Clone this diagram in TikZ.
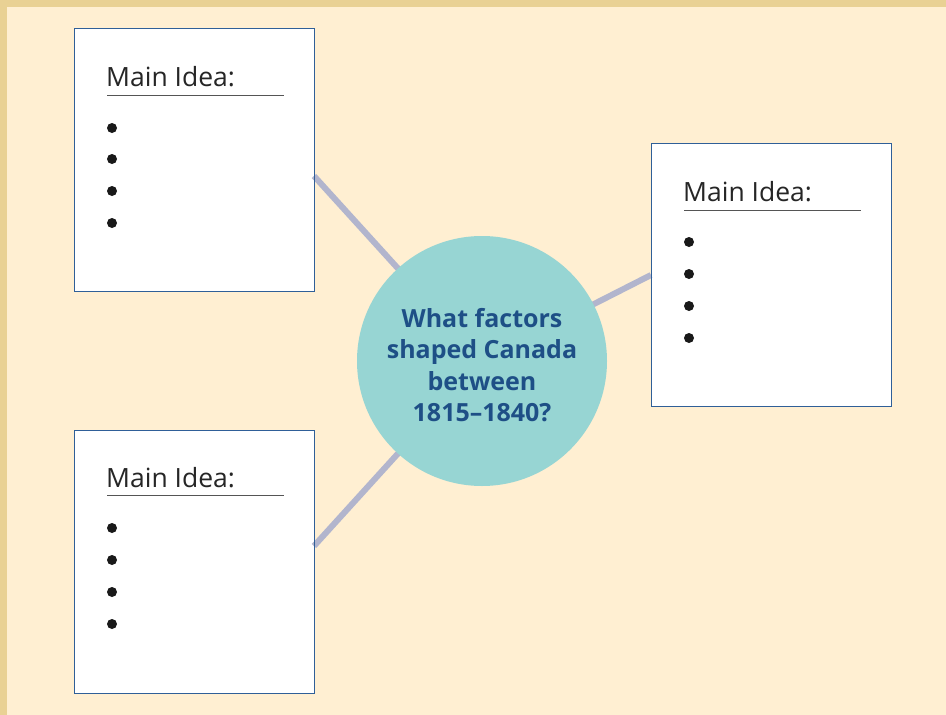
\documentclass[tikz,border=0pt]{standalone}
\usepackage{fontspec}
\setmainfont{Open Sans}
\definecolor{bgcream}{HTML}{FFEFD2}
\definecolor{bgtan}{HTML}{E9D194}
\definecolor{boxblue}{HTML}{2F5F98}
\definecolor{linkgray}{HTML}{B2B5CD}
\definecolor{circteal}{HTML}{97D5D3}
\definecolor{qblue}{HTML}{1E4F86}
\definecolor{rulegray}{HTML}{555555}
\begin{document}
\begin{tikzpicture}[x=1pt,y=-1pt,
  ideabox/.style={draw=boxblue,line width=1.2pt,fill=white,minimum width=240pt,minimum height=263pt,inner sep=0pt,anchor=north west},
  link/.style={draw=linkgray,line width=6pt},
  title/.style={font=\fontsize{26.5}{30}\selectfont,text=black!85,anchor=base west,inner sep=0pt},
  uline/.style={draw=rulegray,line width=1pt},
  bul/.style={fill=black!90,circle,inner sep=0pt,minimum size=10pt}]
\useasboundingbox (0,0) rectangle (946,715);
\fill[bgtan] (0,0) rectangle (946,715);
\fill[bgcream] (7,7) rectangle (946,715);
% boxes
\node[ideabox] (b1) at (74,28) {};
\node[ideabox] (b2) at (74,430) {};
\node[ideabox] (b3) at (651,143) {};
% circle
\coordinate (cc) at (482,361);
\coordinate (e1) at (314,176);
\coordinate (e2) at (314,546);
\coordinate (e3) at (651,275);
\draw[link] (cc) -- (e1);
\draw[link] (cc) -- (e2);
\draw[link] (cc) -- (e3);
\node[circle,fill=circteal,minimum size=250pt,inner sep=0pt] (c) at (cc) {};
\node[text=qblue,font=\bfseries\fontsize{25}{31.5}\selectfont,align=center] (q) at (482,365) {What factors\\shaped Canada\\between\\1815–1840?};
% redraw box edges over links
\node[ideabox,fill=none] at (74,28) {};
\node[ideabox,fill=none] at (74,430) {};
\node[ideabox,fill=none] at (651,143) {};
% titles
\node[title] (t1) at (106,86) {Main Idea:};
\node[title] (t2) at (106,487) {Main Idea:};
\node[title] (t3) at (683,201) {Main Idea:};
\coordinate (u1a) at (107,95); \coordinate (u1b) at (284,95);
\coordinate (u2a) at (107,495); \coordinate (u2b) at (284,495);
\coordinate (u3a) at (684,210); \coordinate (u3b) at (861,210);
\draw[uline] (u1a) -- (u1b);
\draw[uline] (u2a) -- (u2b);
\draw[uline] (u3a) -- (u3b);
% bullets
\foreach \i/\y in {1/128,2/159,3/191,4/223} \node[bul] (p1\i) at (112,\y) {};
\foreach \i/\y in {1/528,2/560,3/592,4/624} \node[bul] (p2\i) at (112,\y) {};
\foreach \i/\y in {1/242,2/274,3/306,4/338} \node[bul] (p3\i) at (689,\y) {};
\end{tikzpicture}
\end{document}
